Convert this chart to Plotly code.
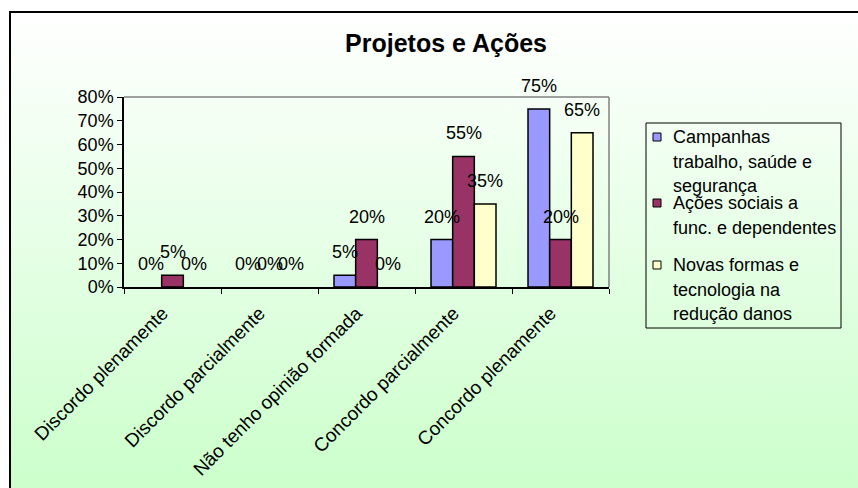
import base64
import plotly.graph_objects as go

# ---- data -------------------------------------------------------------
categories = [
    "Discordo plenamente",
    "Discordo parcialmente",
    "Não tenho opinião formada",
    "Concordo parcialmente",
    "Concordo plenamente",
]
series_names = [
    "Campanhas<br>trabalho, saúde e<br>segurança",
    "Ações sociais a<br>func. e dependentes",
    "Novas formas e<br>tecnologia na<br>redução danos",
]
campanhas = [0, 0, 5, 20, 75]
acoes_sociais = [5, 0, 20, 55, 20]
novas_formas = [0, 0, 0, 35, 65]
y_ticks = [0, 10, 20, 30, 40, 50, 60, 70, 80]
y_tick_labels = ["0%", "10%", "20%", "30%", "40%", "50%", "60%", "70%", "80%"]

series_values = [campanhas, acoes_sociais, novas_formas]
series_colors = ["#9999FF", "#993366", "#FFFFCC"]

# ---- geometry (pixels) -------------------------------------------------
FIG_W, FIG_H = 858, 488
PL, PT, PR, PB = 124, 97, 609, 287          # plot area box
PW, PH = PR - PL, PB - PT
BARGAP = 0.33
FONT = "Liberation Sans, Arial, sans-serif"


def px2x(px):
    return (px - PL) / PW


def py2y(py):
    return (PB - py) / PH


fig = go.Figure()
for name, vals, color in zip(series_names, series_values, series_colors):
    fig.add_trace(go.Bar(
        x=categories, y=vals, name=name, showlegend=False,
        marker=dict(color=color,
                    line=dict(color="black",
                              width=[1.5 if v > 0 else 0 for v in vals])),
    ))

# value labels sit above each bar, Excel style
bar_px = PW / len(categories) * (1 - BARGAP) / len(series_values)
annotations = []
for j, vals in enumerate(series_values):
    for cat, v in zip(categories, vals):
        annotations.append(dict(
            x=cat, y=v, xref="x", yref="y", text=f"{v}%", showarrow=False,
            xshift=(j - 1) * bar_px, yshift=23, yanchor="middle",
            font=dict(family=FONT, size=18, color="black"),
        ))

# legend drawn by hand: box, swatches and wrapped labels
LEG_BOX = (646, 123, 841, 328)
LEG_TEXT_X = 671
LEG_FIRST_LINE = [137, 203, 265]
LEG_LINE_H = 24.5
shapes = []
shapes.append(dict(type="rect", xref="paper", yref="paper",
                   x0=px2x(LEG_BOX[0]), x1=px2x(LEG_BOX[2]),
                   y0=py2y(LEG_BOX[3]), y1=py2y(LEG_BOX[1]),
                   line=dict(color="black", width=1), fillcolor="rgba(0,0,0,0)"))
for name, color, y0 in zip(series_names, series_colors, LEG_FIRST_LINE):
    shapes.append(dict(type="rect", xref="paper", yref="paper",
                       x0=px2x(653), x1=px2x(661), y0=py2y(y0 + 4), y1=py2y(y0 - 4),
                       line=dict(color="black", width=1), fillcolor=color))
    for k, line in enumerate(name.split("<br>")):
        annotations.append(dict(
            x=px2x(LEG_TEXT_X), y=py2y(y0 + k * LEG_LINE_H), xref="paper", yref="paper",
            text=line, showarrow=False, xanchor="left", yanchor="middle",
            font=dict(family=FONT, size=18, color="black"),
        ))

# plot area frame (top and right edges in grey)
shapes.append(dict(type="line", xref="x domain", yref="y domain", x0=0, x1=1, y0=1, y1=1,
                   line=dict(color="#808080", width=1.5), layer="above"))
shapes.append(dict(type="line", xref="x domain", yref="y domain", x0=1, x1=1, y0=0, y1=1,
                   line=dict(color="#808080", width=1.5), layer="above"))

# chart area outline
shapes.append(dict(type="rect", xref="paper", yref="paper",
                   x0=px2x(10), x1=px2x(FIG_W + 40), y0=py2y(FIG_H + 40), y1=py2y(12),
                   line=dict(color="black", width=2), fillcolor="rgba(0,0,0,0)",
                   layer="below"))

# white-to-green gradient behind the chart
svg = (
    '<svg xmlns="http://www.w3.org/2000/svg" width="100" height="100" '
    'preserveAspectRatio="none"><defs><linearGradient id="g" x1="0" y1="0" x2="0" y2="1">'
    '<stop offset="0" stop-color="#FFFFFF"/><stop offset="0.95" stop-color="#CCFFCC"/>'
    '<stop offset="1" stop-color="#CCFFCC"/></linearGradient></defs>'
    '<rect width="100" height="100" fill="url(#g)"/></svg>'
)
bg_src = "data:image/svg+xml;base64," + base64.b64encode(svg.encode()).decode()
images = [dict(source=bg_src, xref="paper", yref="paper",
               x=px2x(10), y=py2y(12), sizex=(FIG_W + 20 - 10) / PW,
               sizey=(FIG_H + 20 - 12) / PH, xanchor="left", yanchor="top",
               sizing="stretch", layer="below")]

fig.update_layout(
    width=FIG_W, height=FIG_H,
    margin=dict(l=PL, r=FIG_W - PR, t=PT, b=FIG_H - PB, autoexpand=False),
    paper_bgcolor="white", plot_bgcolor="#C0C0C0",
    barmode="group", bargap=BARGAP, bargroupgap=0,
    font=dict(family=FONT, size=18, color="black"),
    title=dict(text="<b>Projetos e Ações</b>", xref="container", yref="container",
               x=446 / FIG_W, y=1 - 43 / FIG_H, xanchor="center", yanchor="middle",
               font=dict(family=FONT, size=25, color="black")),
    xaxis=dict(type="category", tickson="boundaries", ticks="outside", ticklen=5,
               tickcolor="black", showline=True, linecolor="black", linewidth=1.5,
               tickangle=-45, showgrid=False, automargin=False, ticklabelstandoff=6,
               ticklabelshift=-10,
               tickfont=dict(family=FONT, size=19, color="black")),
    yaxis=dict(range=[0, 80], tickvals=y_ticks, ticktext=y_tick_labels,
               tickmode="array", ticks="outside",
               ticklen=5, tickcolor="black", showline=True, linecolor="black",
               linewidth=1.5, showgrid=False, zeroline=False, automargin=False,
               tickfont=dict(family=FONT, size=18, color="black")),
    annotations=annotations, shapes=shapes, images=images,
)

fig.write_html("out.html")
